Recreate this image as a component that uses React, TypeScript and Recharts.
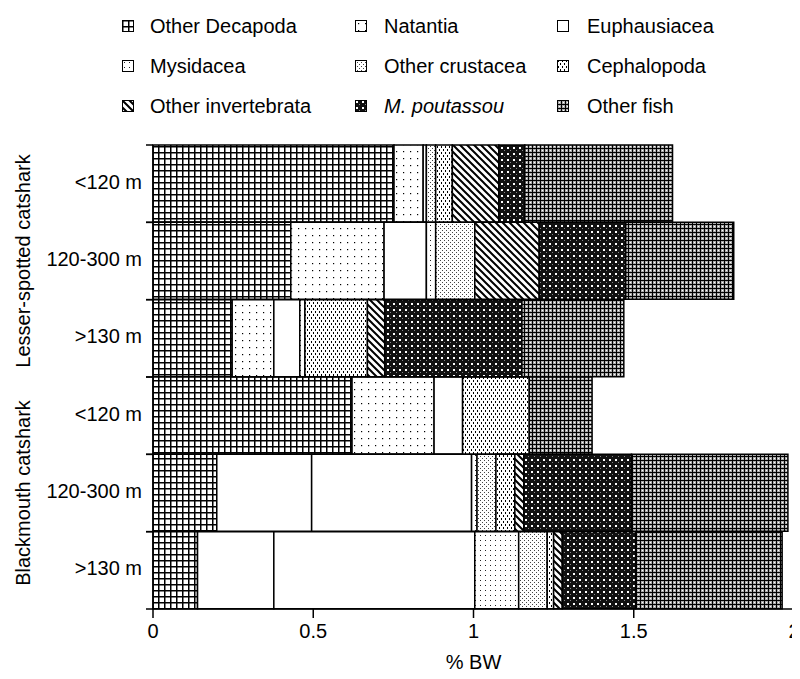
import { BarChart, Bar, XAxis, YAxis, Cell } from 'recharts';

// groups and depth strata on the y axis
const species = ['Lesser-spotted catshark', 'Blackmouth catshark'];
const depths = ['<120 m', '120-300 m', '>130 m'];

// % BW per prey group, rows in the order of species x depths
const otherDecapoda = [0.752, 0.43, 0.247, 0.621, 0.199, 0.139];
const natantia = [0.091, 0.291, 0.13, 0.256, 0.296, 0.238];
const euphausiacea = [0.01, 0.132, 0.081, 0.089, 0.499, 0.627];
const mysidacea = [0, 0.029, 0.016, 0, 0.017, 0.137];
const otherCrustacea = [0.029, 0.122, 0, 0, 0.059, 0.089];
const cephalopoda = [0.052, 0, 0.195, 0.208, 0.059, 0.02];
const otherInvertebrata = [0.145, 0.201, 0.054, 0, 0.028, 0.027];
const mPoutassou = [0.081, 0.27, 0.428, 0, 0.336, 0.229];
const otherFish = [0.461, 0.337, 0.318, 0.196, 0.488, 0.457];

const xTicks = [0, 0.5, 1, 1.5, 2];

// rows where the Natantia block is printed without its dot pattern
const plainNatantiaRows = ['Blackmouth catshark|120-300 m', 'Blackmouth catshark|>130 m'];

const series = [
  { key: 'od', name: 'Other Decapoda', values: otherDecapoda, fill: 'url(#p-od)' },
  { key: 'nat', name: 'Natantia', values: natantia, fill: 'url(#p-nat)' },
  { key: 'eup', name: 'Euphausiacea', values: euphausiacea, fill: '#fff' },
  { key: 'mys', name: 'Mysidacea', values: mysidacea, fill: 'url(#p-mys)' },
  { key: 'ocr', name: 'Other crustacea', values: otherCrustacea, fill: 'url(#p-ocr)' },
  { key: 'cep', name: 'Cephalopoda', values: cephalopoda, fill: 'url(#p-cep)' },
  { key: 'oin', name: 'Other invertebrata', values: otherInvertebrata, fill: 'url(#p-oin)' },
  { key: 'mpo', name: 'M. poutassou', values: mPoutassou, fill: 'url(#p-mpo)', italic: true },
  { key: 'ofi', name: 'Other fish', values: otherFish, fill: 'url(#p-ofi)' },
];

const names = species.flatMap((s) => depths.map((d) => `${s}|${d}`));
const data = names.map((name, i) => {
  const row: Record<string, string | number> = { name };
  series.forEach((s) => {
    row[s.key] = s.values[i];
  });
  return row;
});

const FONT = "'Liberation Sans', Arial, Helvetica, sans-serif";
const legendIconX = [114, 347, 549];
const legendTextX = [142, 376, 579];
const legendRowY = [18, 58, 98];

function DepthTick(props: any) {
  const { x, y, payload, index } = props;
  const half = payload.offset ?? 0;
  const [sp, depth] = String(payload.value).split('|');
  const axisX = x + 11;
  return (
    <g>
      <line x1={axisX - 7} x2={axisX} y1={y - half} y2={y - half} stroke="#000" strokeWidth={1.5} />
      <line x1={axisX - 7} x2={axisX} y1={y + half} y2={y + half} stroke="#000" strokeWidth={1.5} />
      <text x={x} y={y - 2} dy="0.355em" textAnchor="end" fontSize={20} fill="#000">
        {depth}
      </text>
      {index % 3 === 1 && (
        <text
          transform={`translate(15,${y}) rotate(-90)`}
          dy="0.355em"
          textAnchor="middle"
          fontSize={20}
          fill="#000"
        >
          {sp}
        </text>
      )}
    </g>
  );
}

export default function App() {
  return (
    <div style={{ position: 'relative', width: 792, height: 665, fontFamily: FONT }}>
      <BarChart
        width={792}
        height={665}
        data={data}
        layout="vertical"
        barCategoryGap={0}
        margin={{ top: 137, right: 6, bottom: 4, left: 0 }}
      >
        <defs>
          <pattern id="p-od" width={6} height={6} patternUnits="userSpaceOnUse">
            <rect width={6} height={6} fill="#fff" />
            <path d="M0 0.75H6M0.75 0V6" stroke="#000" strokeWidth={1.5} />
          </pattern>
          <pattern id="p-nat" width={7} height={7} patternUnits="userSpaceOnUse">
            <rect width={7} height={7} fill="#fff" />
            <rect x={3} y={3} width={1.2} height={1.2} fill="#000" />
          </pattern>
          <pattern id="p-mys" width={5} height={5} patternUnits="userSpaceOnUse">
            <rect width={5} height={5} fill="#fff" />
            <rect x={2} y={2} width={1} height={1} fill="#222" />
          </pattern>
          <pattern id="p-ocr" width={4} height={4} patternUnits="userSpaceOnUse">
            <rect width={4} height={4} fill="#fff" />
            <rect x={0} y={0} width={1} height={1} fill="#444" />
            <rect x={2} y={2} width={1} height={1} fill="#444" />
          </pattern>
          <pattern id="p-cep" width={4} height={6} patternUnits="userSpaceOnUse">
            <rect width={4} height={6} fill="#fff" />
            <rect x={1} y={0} width={1} height={2} fill="#000" />
            <rect x={3} y={3} width={1} height={2} fill="#000" />
          </pattern>
          <pattern id="p-oin" width={7} height={7} patternUnits="userSpaceOnUse">
            <rect width={7} height={7} fill="#fff" />
            <path d="M-1 -1L8 8M-1 6L1 8M6 -1L8 1" stroke="#000" strokeWidth={2} />
          </pattern>
          <pattern id="p-mpo" width={6} height={6} patternUnits="userSpaceOnUse">
            <rect width={6} height={6} fill="#111" />
            <rect x={1} y={1} width={2} height={2} fill="#fff" />
            <rect x={4} y={4} width={1} height={1} fill="#888" />
          </pattern>
          <pattern id="p-ofi" width={4} height={4} patternUnits="userSpaceOnUse">
            <rect width={4} height={4} fill="#aaa" />
            <rect x={0} y={0} width={4} height={1} fill="#000" />
            <rect x={0} y={0} width={1} height={4} fill="#000" />
            <rect x={2} y={2} width={1} height={1} fill="#fff" />
          </pattern>
        </defs>
        <XAxis
          type="number"
          domain={[0, 2]}
          ticks={xTicks}
          tickSize={9}
          tickMargin={6}
          height={60}
          axisLine={{ stroke: '#000', strokeWidth: 1.5 }}
          tickLine={{ stroke: '#000', strokeWidth: 1.5 }}
          tick={{ fill: '#000', fontSize: 20 }}
          label={{ value: '% BW', position: 'insideBottom', offset: 0, fill: '#000', fontSize: 20 }}
        />
        <YAxis
          type="category"
          dataKey="name"
          width={145}
          interval={0}
          tickSize={7}
          tickMargin={4}
          tickLine={false}
          axisLine={{ stroke: '#000', strokeWidth: 1.5 }}
          tick={<DepthTick />}
        />
        {series.map((s) => (
          <Bar
            key={s.key}
            dataKey={s.key}
            name={s.name}
            stackId="a"
            fill={s.fill}
            stroke="#000"
            strokeWidth={1.5}
            isAnimationActive={false}
          >
            {s.key === 'nat' &&
              names.map((n) => <Cell key={n} fill={plainNatantiaRows.includes(n) ? '#fff' : s.fill} />)}
          </Bar>
        ))}
      </BarChart>
      {series.map((s, i) => {
        const col = i % 3;
        const row = Math.floor(i / 3);
        return (
          <div key={s.key}>
            <svg
              width={12}
              height={12}
              style={{ position: 'absolute', left: legendIconX[col], top: legendRowY[row] - 6 }}
            >
              <rect x={0.5} y={0.5} width={11} height={11} fill={s.fill} stroke="#000" strokeWidth={1} />
            </svg>
            <span
              style={{
                position: 'absolute',
                left: legendTextX[col],
                top: legendRowY[row] - 12,
                fontSize: 20,
                lineHeight: '24px',
                fontStyle: s.italic ? 'italic' : 'normal',
                whiteSpace: 'nowrap',
                color: '#000',
              }}
            >
              {s.name}
            </span>
          </div>
        );
      })}
    </div>
  );
}
